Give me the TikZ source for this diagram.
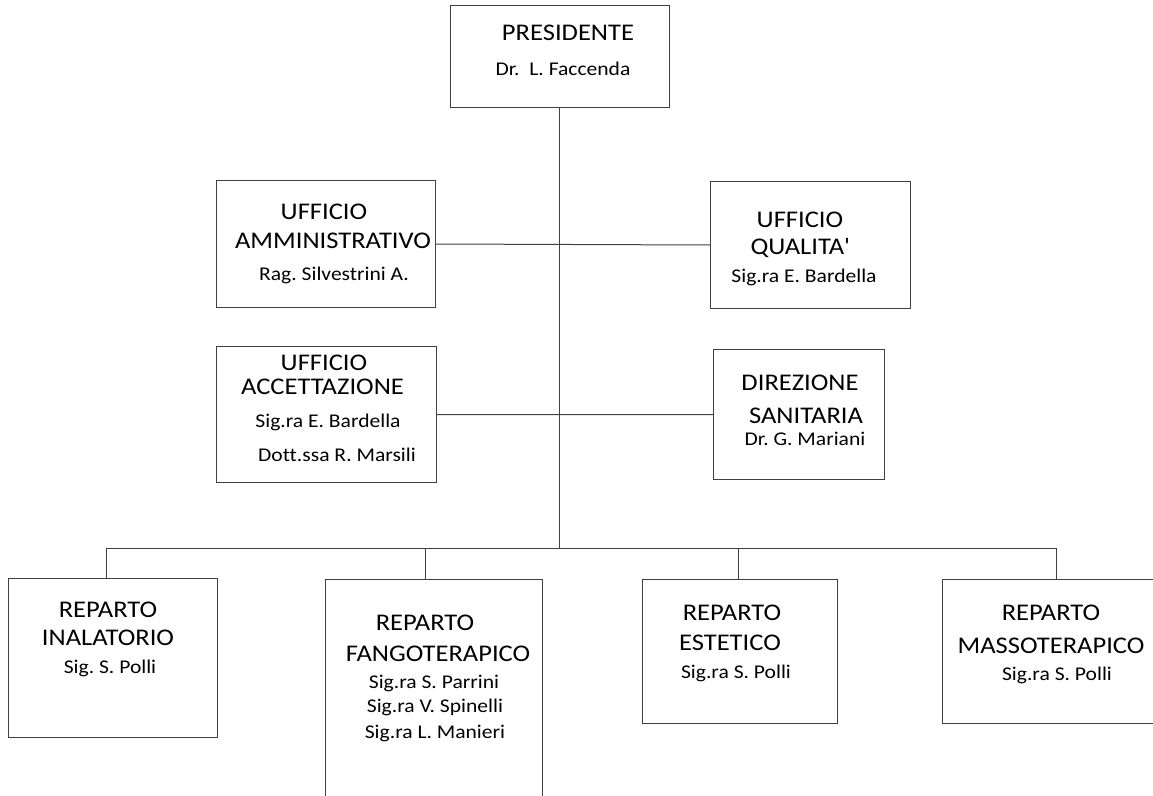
\documentclass[tikz,border=0pt]{standalone}
\usepackage{fontspec}
\setmainfont{Carlito}[FakeStretch=1.11,Ligatures=NoCommon]
\begin{document}
\frenchspacing
\begin{tikzpicture}[x=1bp,y=-1bp,
  box/.style={draw=black!75,line width=1bp,rectangle,inner sep=0pt},
  conn/.style={draw=black!75,line width=1bp},
  big/.style={inner sep=0pt,font=\fontsize{24}{28}\selectfont},
  small/.style={inner sep=0pt,font=\fontsize{19.5}{24}\selectfont}]
\useasboundingbox (0,0) rectangle (1153,796);
\clip (0,0) rectangle (1153,796);
% boxes
\node[box,anchor=north west,minimum width=219bp,minimum height=102bp] (pres) at (450,5) {};
\node[box,anchor=north west,minimum width=219bp,minimum height=127bp] (amm) at (216,180) {};
\node[box,anchor=north west,minimum width=200bp,minimum height=127bp] (qual) at (710,181) {};
\node[box,anchor=north west,minimum width=220bp,minimum height=136bp] (acc) at (216,346) {};
\node[box,anchor=north west,minimum width=171bp,minimum height=130bp] (dir) at (713,349) {};
\node[box,anchor=north west,minimum width=209bp,minimum height=159bp] (inal) at (8,578) {};
\node[box,anchor=north west,minimum width=217bp,minimum height=240bp] (fang) at (325,579) {};
\node[box,anchor=north west,minimum width=195bp,minimum height=144bp] (est) at (642,579) {};
\node[box,anchor=north west,minimum width=230bp,minimum height=144bp] (mass) at (942,579) {};
% texts
\node[big] (t1) at (568,33) {PRESIDENTE};
\node[small] (t2) at (563,69) {Dr.\ \ L. Faccenda};
\node[big] (t3) at (324,212) {UFFICIO};
\node[big] (t4) at (333,241) {AMMINISTRATIVO};
\node[small] (t5) at (334,275) {Rag. Silvestrini A.};
\node[big] (t6) at (800,220) {UFFICIO};
\node[big] (t7) at (800,248) {QUALITA\textquotesingle};
\node[small] (t8) at (804,277) {Sig.ra E. Bardella};
\node[big] (t9) at (324,363) {UFFICIO};
\node[big] (t10) at (322.5,387) {ACCETTAZIONE};
\node[small] (t11) at (328,422) {Sig.ra E. Bardella};
\node[small] (t12) at (337,455) {Dott.ssa R. Marsili};
\node[big] (t13) at (800,383) {DIREZIONE};
\node[big] (t14) at (806,416) {SANITARIA};
\node[small] (t15) at (805,439) {Dr. G. Mariani};
\node[big] (t16) at (108,610) {REPARTO};
\node[big] (t17) at (108,638) {INALATORIO};
\node[small] (t18) at (110,668) {Sig. S. Polli};
\node[big] (t19) at (425,623) {REPARTO};
\node[big] (t20) at (438,654) {FANGOTERAPICO};
\node[small] (t21) at (434,683) {Sig.ra S. Parrini};
\node[small] (t22) at (435,707) {Sig.ra V. Spinelli};
\node[small] (t23) at (435,733) {Sig.ra L. Manieri};
\node[big] (t24) at (732,613) {REPARTO};
\node[big] (t25) at (730,643) {ESTETICO};
\node[small] (t26) at (736,673) {Sig.ra S. Polli};
\node[big] (t27) at (1051,613) {REPARTO};
\node[big] (t28) at (1051,646) {MASSOTERAPICO};
\node[small] (t29) at (1057,675) {Sig.ra S. Polli};
% connectors
\coordinate (top) at (559,107);
\coordinate (hub) at (559,548);
\coordinate (bl) at (106,548);
\coordinate (br) at (1056,548);
\coordinate (bf) at (425,548);
\coordinate (be) at (738,548);
\draw[conn] (top) -- (hub);
\draw[conn] (amm.east) -- (qual.west);
\draw[conn] (acc.east) -- (dir.west);
\draw[conn] (bl) -- (br);
\draw[conn] (bl) -- (bl |- inal.north);
\draw[conn] (bf) -- (bf |- fang.north);
\draw[conn] (be) -- (be |- est.north);
\draw[conn] (br) -- (br |- mass.north);
\end{tikzpicture}
\end{document}
